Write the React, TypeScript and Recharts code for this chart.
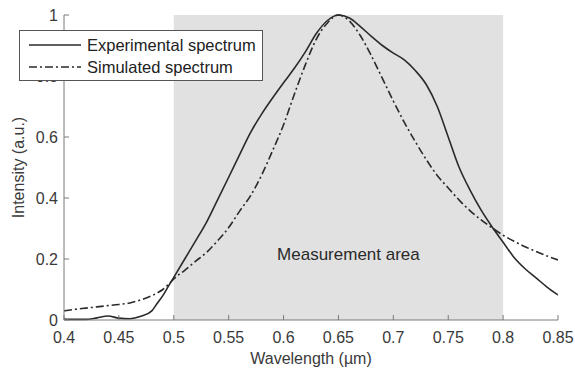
import { LineChart, Line, XAxis, YAxis, ReferenceArea, Legend } from "recharts";

const wavelengths = [
  0.4, 0.41, 0.42, 0.43, 0.44, 0.45, 0.46, 0.47, 0.48, 0.485, 0.49, 0.495,
  0.5, 0.51, 0.52, 0.53, 0.54, 0.55, 0.56, 0.57, 0.58, 0.59,
  0.6, 0.61, 0.62, 0.63, 0.64, 0.65, 0.66, 0.67, 0.68, 0.69,
  0.7, 0.71, 0.72, 0.73, 0.74, 0.75, 0.76, 0.77, 0.78, 0.79,
  0.8, 0.81, 0.82, 0.83, 0.84, 0.85,
];

const experimental = [
  0.003, 0.002, 0.002, 0.007, 0.013, 0.006, 0.004, 0.012, 0.03, 0.055, 0.08, 0.11,
  0.14, 0.2, 0.26, 0.322, 0.395, 0.468, 0.542, 0.615, 0.675, 0.728,
  0.778, 0.826, 0.88, 0.94, 0.982, 1.0, 0.99, 0.962, 0.93, 0.9,
  0.875, 0.853, 0.818, 0.772, 0.7, 0.6, 0.5, 0.425, 0.36, 0.305,
  0.255, 0.205, 0.168, 0.138, 0.108, 0.082,
];

const simulated = [
  0.03, 0.035, 0.039, 0.043, 0.047, 0.051, 0.056, 0.066, 0.08, 0.089, 0.1, 0.116,
  0.135, 0.163, 0.193, 0.222, 0.26, 0.303, 0.357, 0.408, 0.475, 0.555,
  0.64, 0.742, 0.838, 0.922, 0.974, 1.0, 0.98, 0.932, 0.866, 0.792,
  0.718, 0.648, 0.585, 0.526, 0.474, 0.433, 0.393, 0.358, 0.328, 0.302,
  0.278, 0.258, 0.24, 0.225, 0.21, 0.197,
];

const xTicks = [0.4, 0.45, 0.5, 0.55, 0.6, 0.65, 0.7, 0.75, 0.8, 0.85];
const yTicks = [0, 0.2, 0.4, 0.6, 0.8, 1];

const measurementRange = [0.5, 0.8];

const data = wavelengths.map((w, i) => ({ w, exp: experimental[i], sim: simulated[i] }));

const FONT = "'Liberation Sans', Arial, Helvetica, sans-serif";
const AXIS = "#7a7a7a";
const TEXT = "#3a3a3a";
const LINE = "#2a2a2a";
const DASH_DOT = "8 3 2 3";

const seriesStyle: Record<string, string | undefined> = { exp: undefined, sim: DASH_DOT };

function renderLegend(props: any) {
  const payload = props.payload ?? [];
  return (
    <div
      style={{
        width: 244, height: 51, boxSizing: "border-box", background: "#fff",
        border: "1px solid #555", fontFamily: FONT, fontSize: 16.5, color: "#222",
        paddingTop: 3,
      }}
    >
      {payload.map((entry: any) => (
        <div key={entry.value} style={{ display: "flex", alignItems: "center", height: 22 }}>
          <svg width={62} height={10} style={{ marginLeft: 9, flex: "none" }}>
            <line x1={0} x2={52} y1={5} y2={5} stroke={LINE} strokeWidth={1.6}
              strokeDasharray={seriesStyle[entry.dataKey]} />
          </svg>
          <span style={{ marginLeft: -4, lineHeight: "22px", whiteSpace: "nowrap" }}>{entry.value}</span>
        </div>
      ))}
    </div>
  );
}

function renderAreaLabel(props: any) {
  const vb = props.viewBox;
  return (
    <text x={vb.x + vb.width / 2 + 10} y={vb.y + vb.height - 60} textAnchor="middle"
      fontFamily={FONT} fontSize={17} fill="#2a2a2a">
      Measurement area
    </text>
  );
}

function renderXLabel(props: any) {
  const vb = props.viewBox;
  return (
    <text x={vb.x + vb.width / 2} y={vb.y + 44} textAnchor="middle"
      fontFamily={FONT} fontSize={16} fill={TEXT}>
      Wavelength (µm)
    </text>
  );
}

function renderYLabel(props: any) {
  const vb = props.viewBox;
  const cx = 24;
  const cy = vb.y + vb.height / 2;
  return (
    <text x={cx} y={cy} textAnchor="middle" transform={`rotate(-90, ${cx}, ${cy})`}
      fontFamily={FONT} fontSize={16} fill={TEXT}>
      Intensity (a.u.)
    </text>
  );
}

export default function App() {
  const tickStyle = { fill: TEXT, fontSize: 16, fontFamily: FONT };
  return (
    <div style={{ position: "absolute", left: 0, top: 0, width: 575, height: 373, background: "#fff" }}>
      <LineChart width={575} height={373} data={data} margin={{ top: 15, right: 17, left: 0, bottom: 0 }}>
        <ReferenceArea
          x1={measurementRange[0]} x2={measurementRange[1]} y1={0} y2={1}
          fill="#e1e1e1" fillOpacity={1} stroke="none" label={renderAreaLabel}
        />
        <XAxis
          dataKey="w" type="number" domain={[0.4, 0.85]} ticks={xTicks} allowDataOverflow
          height={53} tickSize={-5} tickMargin={17}
          axisLine={{ stroke: AXIS }} tickLine={{ stroke: AXIS }} tick={tickStyle}
          label={renderXLabel}
        />
        <XAxis
          xAxisId="top" orientation="top" dataKey="w" type="number" domain={[0.4, 0.85]}
          ticks={xTicks} height={0} tickSize={-5} tick={false}
          axisLine={{ stroke: AXIS }} tickLine={{ stroke: AXIS }}
        />
        <YAxis
          type="number" domain={[0, 1]} ticks={yTicks} width={64} tickSize={-5} tickMargin={11}
          axisLine={{ stroke: AXIS }} tickLine={{ stroke: AXIS }} tick={tickStyle}
          label={renderYLabel}
        />
        <YAxis
          yAxisId="right" orientation="right" type="number" domain={[0, 1]} ticks={yTicks}
          width={0} tickSize={-5} tick={false}
          axisLine={{ stroke: AXIS }} tickLine={{ stroke: AXIS }}
        />
        <Legend
          layout="vertical" align="center" verticalAlign="middle" content={renderLegend}
          wrapperStyle={{ left: 19, top: 30, width: 244, height: 51 }}
        />
        <Line type="monotone" dataKey="exp" name="Experimental spectrum" stroke={LINE}
          strokeWidth={1.6} dot={false} isAnimationActive={false} />
        <Line type="monotone" dataKey="sim" name="Simulated spectrum" stroke={LINE}
          strokeWidth={1.6} strokeDasharray={DASH_DOT} dot={false} isAnimationActive={false} />
      </LineChart>
    </div>
  );
}
